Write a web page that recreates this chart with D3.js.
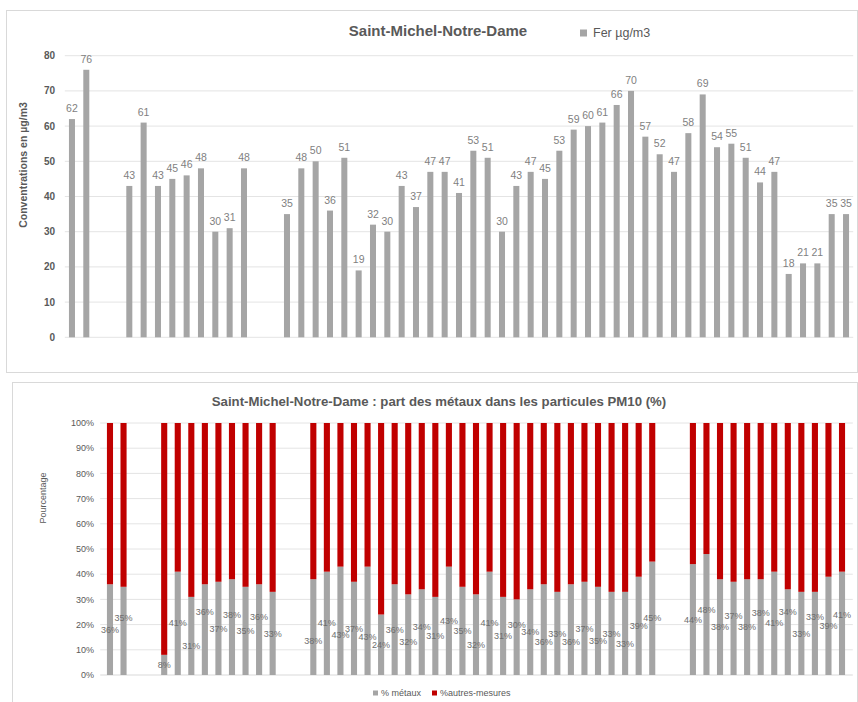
<!DOCTYPE html>
<html>
<head>
<meta charset="utf-8">
<script src="https://cdn.jsdelivr.net/npm/d3@7"></script>
<style>
  body { margin: 0; background: #fff; }
  text { font-family: "Liberation Sans", Arial, sans-serif; }
</style>
</head>
<body>
<svg id="chart" width="858" height="702"></svg>
<script>
// Sampling days (one slot per sample, empty slots = no measurement)
const samples = d3.range(1, 56);

// Iron concentration, µg/m3
const ferValues = [62, 76, null, null, 43, 61, 43, 45, 46, 48, 30, 31, 48, null, null,
  35, 48, 50, 36, 51, 19, 32, 30, 43, 37, 47, 47, 41, 53, 51, 30, 43, 47, 45, 53,
  59, 60, 61, 66, 70, 57, 52, 47, 58, 69, 54, 55, 51, 44, 47, 18, 21, 21, 35, 35];

// Share of metals in PM10 (%), the rest being other measured species
const metauxPct = [36, 35, null, null, 8, 41, 31, 36, 37, 38, 35, 36, 33, null, null,
  38, 41, 43, 37, 43, 24, 36, 32, 34, 31, 43, 35, 32, 41, 31, 30, 34, 36, 33, 36,
  37, 35, 33, 33, 39, 45, null, null,
  44, 48, 38, 37, 38, 38, 41, 34, 33, 33, 39, 41];
const autresPct = metauxPct.map(v => v == null ? null : 100 - v);

// Manual label nudges (percentage points) so neighbouring labels don't collide
const labelNudge = [0, 5, 0, 0, 0, 0, -4, 7, 0, 5, 0, 5, 0, 0, 0,
  -5.5, 0, -5.5, 0, -6.5, 0, 0, -3, 2, 0, 0, 0, -4, 0, 0, 5, 0, -5, 0, -5,
  0, -4, 0, -4, 0, 0, 0, 0,
  0, 2, 0, 5, 0, 5.5, 0, 8, 0, 6.5, 0, 3.5];

const ferTicks = d3.range(0, 81, 10);
const pctTicks = d3.range(0, 101, 10);

const GREY = "#a5a5a5", RED = "#c00000", TXT = "#595959", LBL = "#7f7f7f", GRID = "#e4e4e4";
const svg = d3.select("#chart");

/* ---------- top panel: iron concentrations ---------- */
const ferPanel = svg.append("g");
ferPanel.append("rect").attr("x", 6.5).attr("y", 10.5).attr("width", 851).attr("height", 362)
  .attr("fill", "#fff").attr("stroke", "#d9d9d9");

const xFer = d3.scaleBand().domain(samples).range([64.8, 853.2]).paddingInner(0.58).paddingOuter(0.29);
const yFer = d3.scaleLinear().domain([0, 80]).range([337.3, 55.7]);

ferPanel.append("g").selectAll("line").data(ferTicks).join("line")
  .attr("x1", xFer.range()[0]).attr("x2", xFer.range()[1])
  .attr("y1", d => yFer(d)).attr("y2", d => yFer(d))
  .attr("stroke", GRID).attr("stroke-width", 1);

ferPanel.append("g").selectAll("text").data(ferTicks).join("text")
  .attr("x", 55).attr("y", d => yFer(d)).attr("dy", "0.35em")
  .attr("text-anchor", "end").attr("font-size", 10).attr("font-weight", "bold")
  .attr("fill", TXT).text(d => d);

const ferData = samples.map((s, i) => ({ s, v: ferValues[i] })).filter(d => d.v != null);
ferPanel.append("g").selectAll("rect").data(ferData).join("rect")
  .attr("x", d => xFer(d.s)).attr("width", xFer.bandwidth())
  .attr("y", d => yFer(d.v)).attr("height", d => yFer(0) - yFer(d.v))
  .attr("fill", GREY);

ferPanel.append("g").selectAll("text").data(ferData).join("text")
  .attr("x", d => xFer(d.s) + xFer.bandwidth() / 2).attr("y", d => yFer(d.v) - 7)
  .attr("text-anchor", "middle").attr("font-size", 10.5).attr("fill", LBL)
  .text(d => d.v);

ferPanel.append("text").attr("transform", "translate(23,165) rotate(-90)")
  .attr("text-anchor", "middle").attr("dy", "0.35em")
  .attr("font-size", 10.5).attr("font-weight", "bold").attr("fill", TXT)
  .text("Conventrations en µg/m3");

ferPanel.append("text").attr("x", 438).attr("y", 31).attr("dy", "0.35em")
  .attr("text-anchor", "middle").attr("font-size", 15).attr("font-weight", "bold")
  .attr("fill", TXT).text("Saint-Michel-Notre-Dame");

ferPanel.append("rect").attr("x", 580).attr("y", 29.5).attr("width", 7).attr("height", 7).attr("fill", GREY);
ferPanel.append("text").attr("x", 593).attr("y", 33).attr("dy", "0.35em")
  .attr("font-size", 12.5).attr("fill", TXT).text("Fer µg/m3");

/* ---------- bottom panel: share of metals ---------- */
const pctPanel = svg.append("g");
pctPanel.append("rect").attr("x", 12.5).attr("y", 382.5).attr("width", 845).attr("height", 330)
  .attr("fill", "#fff").attr("stroke", "#d9d9d9");

const xPct = d3.scaleBand().domain(samples).range([103.2, 848.8]).paddingInner(0.55).paddingOuter(0.275);
const yPct = d3.scaleLinear().domain([0, 100]).range([675, 423]);

pctPanel.append("g").selectAll("line").data(pctTicks).join("line")
  .attr("x1", xPct.range()[0] - 3).attr("x2", xPct.range()[1] + 4)
  .attr("y1", d => yPct(d)).attr("y2", d => yPct(d))
  .attr("stroke", d => d === 0 ? "#d9d9d9" : GRID).attr("stroke-width", 1);

pctPanel.append("g").selectAll("text").data(pctTicks).join("text")
  .attr("x", 94).attr("y", d => yPct(d)).attr("dy", "0.35em")
  .attr("text-anchor", "end").attr("font-size", 9).attr("fill", TXT)
  .text(d => d + "%");

const pctData = samples.map((s, i) => ({ s, m: metauxPct[i], a: autresPct[i], n: labelNudge[i] }))
  .filter(d => d.m != null);
const stacked = d3.stack().keys(["m", "a"])(pctData);
const colors = { m: GREY, a: RED };

pctPanel.append("g").selectAll("g").data(stacked).join("g")
  .attr("fill", d => colors[d.key])
  .selectAll("rect").data(d => d).join("rect")
  .attr("x", d => xPct(d.data.s)).attr("width", xPct.bandwidth())
  .attr("y", d => yPct(d[1])).attr("height", d => yPct(d[0]) - yPct(d[1]));

pctPanel.append("g").selectAll("text").data(pctData).join("text")
  .attr("x", d => xPct(d.s) + xPct.bandwidth() / 2)
  .attr("y", d => yPct(d.m / 2 + d.n)).attr("dy", "0.35em")
  .attr("text-anchor", "middle").attr("font-size", 9).attr("fill", "#6e6e6e")
  .text(d => d.m + "%");

pctPanel.append("text").attr("transform", "translate(43,498) rotate(-90)")
  .attr("text-anchor", "middle").attr("dy", "0.35em")
  .attr("font-size", 9).attr("fill", TXT).text("Pourcentage");

pctPanel.append("text").attr("x", 439).attr("y", 401).attr("dy", "0.35em")
  .attr("text-anchor", "middle").attr("font-size", 13.2).attr("font-weight", "bold")
  .attr("fill", TXT).text("Saint-Michel-Notre-Dame : part des métaux dans les particules PM10 (%)");

const legendItems = [
  { label: "% métaux", color: GREY, x: 373 },
  { label: "%autres-mesures", color: RED, x: 432 }
];
const lg = pctPanel.append("g").selectAll("g").data(legendItems).join("g");
lg.append("rect").attr("x", d => d.x).attr("y", 690.5).attr("width", 5).attr("height", 5)
  .attr("fill", d => d.color);
lg.append("text").attr("x", d => d.x + 8).attr("y", 693).attr("dy", "0.35em")
  .attr("font-size", 9).attr("fill", TXT).text(d => d.label);
</script>
</body>
</html>
